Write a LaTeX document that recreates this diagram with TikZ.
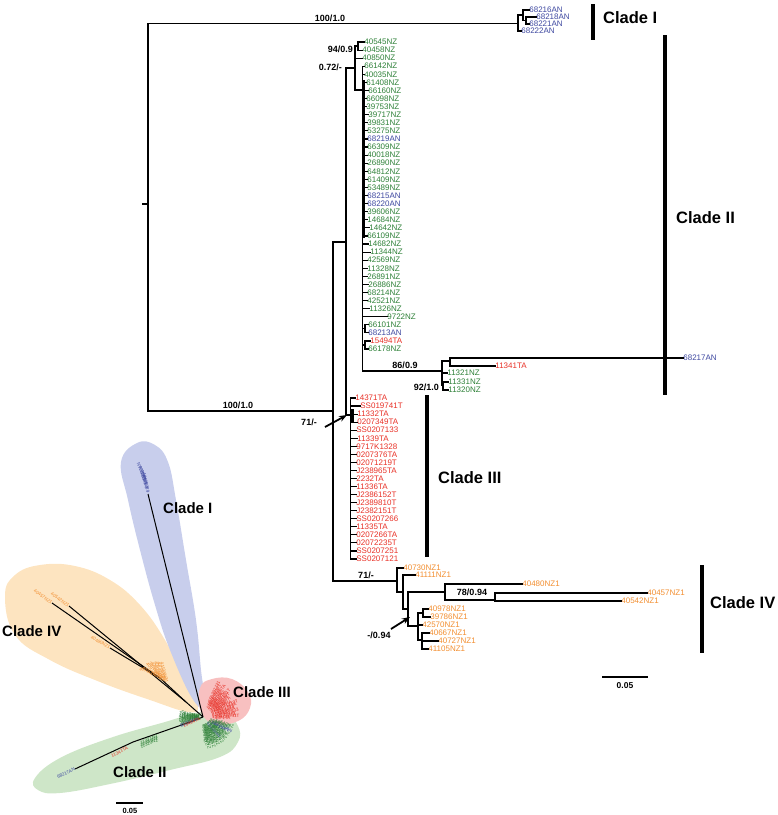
\documentclass[tikz,border=0pt]{standalone}
\usepackage{fontspec}
\setmainfont{Liberation Sans}
\usetikzlibrary{arrows.meta}
\definecolor{cgreen}{RGB}{45,128,55}
\definecolor{cblue}{RGB}{62,72,160}
\definecolor{cred}{RGB}{232,48,38}
\definecolor{corange}{RGB}{242,142,48}
\definecolor{fblue}{RGB}{200,206,236}
\definecolor{forange}{RGB}{253,228,192}
\definecolor{fred}{RGB}{248,192,192}
\definecolor{fgreen}{RGB}{206,230,200}
\tikzset{
  br/.style={line width=1.15pt, line cap=rect},
  tipl/.style={font=\fontsize{8}{8}\selectfont, anchor=west, inner sep=0pt, outer sep=0.4pt},
  supp/.style={font=\fontsize{9}{9}\selectfont\bfseries, inner sep=0pt},
  cladel/.style={font=\fontsize{16.5}{16.5}\selectfont\bfseries, anchor=west, inner sep=0pt},
  icladel/.style={font=\fontsize{15}{15}\selectfont\bfseries, anchor=west, inner sep=0pt},
  cbar/.style={line width=3.6pt},
  itip/.style={font=\fontsize{4.6}{4.6}\selectfont, inner sep=0pt},
  ibr/.style={line width=1pt},
  arr/.style={line width=1.8pt, -{Stealth[length=8pt,width=6pt]}},
}
\begin{document}
\begin{tikzpicture}[x=1pt,y=-1pt]
\useasboundingbox (0,0) rectangle (778,815);

% ================= INSET (unrooted tree) =================
\fill[forange] plot[smooth cycle, tension=0.7] coordinates {(5,596) (15,575) (40,565) (75,566) (110,580) (140,605) (165,640) (185,680) (198,706) (188,712) (150,700) (100,682) (50,660) (15,635)};
\fill[fblue] plot[smooth cycle, tension=0.7] coordinates {(137,443) (155,445) (168,462) (176,500) (186,560) (196,620) (201,670) (205,706) (192,698) (170,650) (155,605) (140,550) (128,500) (121,462)};
\fill[fgreen] plot[smooth cycle, tension=0.7] coordinates {(35,778) (60,758) (110,738) (165,722) (200,712) (225,714) (238,726) (238,742) (220,757) (170,770) (110,784) (60,793) (38,790)};
\fill[fred] plot[smooth cycle, tension=0.7] coordinates {(200,688) (212,679) (232,679) (248,692) (250,708) (238,721) (215,724) (201,712)};

\coordinate (O) at (203,717);
% clade I branch
\coordinate (bt) at (148,494);
\draw[ibr] (O) -- (bt);
\foreach \lab/\dx/\dy/\ang [count=\i] in {68216AN/0/0/101, 68218AN/-1/-4/104, 68221AN/-2/-8/107, 68222AN/-3/-12/110}
  \node[itip, text=cblue, anchor=west, rotate=\ang] (ib\i) at ({148+\dx},{493+\dy}) {\lab};
% clade IV branches
\coordinate (oc) at (186,702);
\coordinate (ob) at (160,678);
\coordinate (o1) at (52,603);
\coordinate (o2) at (69,606);
\coordinate (o3) at (110,648);
\draw[ibr] (O) -- (oc);
\draw[ibr] (oc) -- (ob);
\draw[ibr] (ob) -- (o1);
\draw[ibr] (oc) -- (o2);
\draw[ibr] (ob) -- (o3);
\node[itip, text=corange, anchor=east, rotate=-35] (io1) at (o1) {40457NZ1};
\node[itip, text=corange, anchor=east, rotate=-35] (io2) at (o2) {40542NZ1};
\node[itip, text=corange, anchor=east, rotate=-30] (io3) at (o3) {40480NZ1};
\foreach \lab/\ang/\dx/\dy [count=\i] in {40730NZ1/-20/0/0, 41111NZ1/-28/1/2, 40978NZ1/-45/2/3, 39786NZ1/-52/3/4, 42570NZ1/-58/4/5, 40667NZ1/-64/5/5, 40727NZ1/-70/6/6, 41105NZ1/-76/7/7}
  \node[itip, text=corange, anchor=east, rotate=\ang] (ioc\i) at ({160+\dx},{676+\dy}) {\lab};
% clade II branches
\coordinate (gc) at (190,722);
\coordinate (gb) at (133,742);
\coordinate (gt) at (75,769);
\draw[ibr] (O) -- (gc);
\draw[ibr] (gc) -- (gb);
\draw[ibr] (gb) -- (gt);
\node[itip, text=cblue, anchor=east, rotate=25] (ig1) at (gt) {68217AN};
\node[itip, text=cred, anchor=east, rotate=25] (ig2) at (128,748) {11341TA};
\foreach \lab/\dy [count=\i] in {11321NZ/-1, 11331NZ/1, 11320NZ/3}
  \node[itip, text=cgreen, anchor=east, rotate=22] (ig3\i) at (158,{737+\dy}) {\lab};
\foreach \lab/\col [count=\i from 0] in {40545NZ/cgreen,40458NZ/cgreen,40850NZ/cgreen,66142NZ/cgreen,40035NZ/cgreen,61408NZ/cgreen,66160NZ/cgreen,66098NZ/cgreen,39753NZ/cgreen,39717NZ/cgreen,39831NZ/cgreen,53275NZ/cgreen,68219AN/cblue,66309NZ/cgreen,40018NZ/cgreen,26890NZ/cgreen,64812NZ/cgreen,61409NZ/cgreen,53489NZ/cgreen,68215AN/cblue,68220AN/cblue,39606NZ/cgreen,14684NZ/cgreen,14642NZ/cgreen} {
  \pgfmathsetmacro{\ang}{-84+2.9*\i}
  \pgfmathsetmacro{\rad}{7+mod(\i,3)*3}
  \node[itip, text=\col, anchor=west, rotate=\ang] (igf\i) at ({203+\rad*cos(\ang)},{717-\rad*sin(\ang)}) {\lab};
}
\foreach \lab/\col [count=\i from 0] in {66109NZ/cgreen,14682NZ/cgreen,11344NZ/cgreen,42569NZ/cgreen,11328NZ/cgreen,26891NZ/cgreen,26886NZ/cgreen,68214NZ/cgreen,42521NZ/cgreen,11326NZ/cgreen,66101NZ/cgreen,68213AN/cblue,15494TA/cred} {
  \pgfmathsetmacro{\ang}{168+3*\i}
  \pgfmathsetmacro{\rad}{3+mod(\i,2)*2}
  \pgfmathsetmacro{\rot}{\ang-180}
  \node[itip, text=\col, anchor=east, rotate=\rot] (igl\i) at ({203+\rad*cos(\ang)},{717-\rad*sin(\ang)}) {\lab};
}
% clade III fan
\foreach \lab [count=\i from 0] in {14371TA,SS019741T,11332TA,0207349TA,SS0207133,11339TA,9717K1328,0207376TA,02071219T,J238965TA,2232TA,11336TA,J2386152T,J2389810T,J2382151T,SS0207266,11335TA,0207266TA,02072235T,SS0207251,SS0207121} {
  \pgfmathsetmacro{\ang}{-2+3.4*\i}
  \pgfmathsetmacro{\rad}{9+mod(\i,3)*3}
  \node[itip, text=cred, anchor=west, rotate=\ang] (irf\i) at ({203+\rad*cos(\ang)},{717-\rad*sin(\ang)}) {\lab};
}
\node[icladel] (iL1) at (163,508) {Clade I};
\node[icladel] (iL4) at (2,631) {Clade IV};
\node[icladel] (iL3) at (233,692) {Clade III};
\node[icladel] (iL2) at (113,772) {Clade II};
\coordinate (isb1) at (116,803);
\coordinate (isb2) at (143,803);
\draw[line width=1.2pt] (isb1) -- (isb2);
\node[font=\fontsize{7.5}{7.5}\selectfont\bfseries, inner sep=0pt] (isbl) at (130,811) {0.05};

% ================= MAIN TREE =================
\coordinate (root) at (148,204);
\coordinate (rootstub) at (143,204);
\coordinate (N1) at (518,23.5);
\coordinate (B) at (333,411);
\draw[br] (rootstub) -- (root);
\draw[br] (root |- N1) -- (root |- B);
\draw[br] (root |- N1) -- (N1);
\draw[br] (root |- B) -- (B);
\node[supp] (s1) at (330,18) {100/1.0};
\node[supp] (s2) at (238,405.5) {100/1.0};

% clade I
\coordinate (Ia) at (523,15);
\coordinate (Ib) at (526,20.5);
\node[tipl,text=cblue] (a1) at (529,10) {68216AN};
\node[tipl,text=cblue] (a2) at (536,17) {68218AN};
\node[tipl,text=cblue] (a3) at (529,24) {68221AN};
\node[tipl,text=cblue] (a4) at (521,31) {68222AN};
\draw[br] (N1 |- Ia) -- (N1 |- a4.west);
\draw[br] (N1 |- Ia) -- (Ia);
\draw[br] (Ia |- a1.west) -- (Ia |- Ib);
\draw[br] (Ia |- a1.west) -- (a1.west);
\draw[br] (Ia |- Ib) -- (Ib);
\draw[br] (Ib |- a2.west) -- (Ib |- a3.west);
\draw[br] (Ib |- a2.west) -- (a2.west);
\draw[br] (Ib |- a3.west) -- (a3.west);
\draw[br] (N1 |- a4.west) -- (a4.west);

% clade bars
\draw[cbar] (593,4) -- (593,40);
\node[cladel] (L1) at (603,18) {Clade I};
\draw[cbar] (665,35) -- (665,395);
\node[cladel] (L2) at (676,218) {Clade II};
\draw[cbar] (427,395) -- (427,557);
\node[cladel] (L3) at (438,478) {Clade III};
\draw[cbar] (702,565) -- (702,653);
\node[cladel] (L4) at (710,603) {Clade IV};

% B, C
\coordinate (C) at (346,242);
\coordinate (G) at (397,581);
\draw[br] (B |- C) -- (B |- G);
\draw[br] (B |- C) -- (C);
\draw[br] (B |- G) -- (G);
\node[supp] (s71b) at (366,575) {71/-};
\coordinate (D) at (355,68);
\coordinate (F) at (350.5,415);
\draw[br] (C |- D) -- (C |- F);
\draw[br] (C |- D) -- (D);
\draw[br] (C |- F) -- (F);
\node[supp, anchor=east] (s072) at (342,67) {0.72/-};
\coordinate (P) at (358,46);
\coordinate (E) at (362.5,90);
\draw[br] (D |- P) -- (D |- E);
\draw[br] (D |- P) -- (P);
\draw[br] (D |- E) -- (E);
\node[supp, anchor=east] (s94) at (353,49) {94/0.9};

% clade II tips
\foreach \lab/\lx/\col [count=\k from 0] in {40545NZ/364/cgreen, 40458NZ/362/cgreen, 40850NZ/362/cgreen, 66142NZ/364/cgreen, 40035NZ/364/cgreen, 61408NZ/366/cgreen, 66160NZ/368/cgreen, 66098NZ/366/cgreen, 39753NZ/366/cgreen, 39717NZ/368/cgreen, 39831NZ/367/cgreen, 53275NZ/367/cgreen, 68219AN/367/cblue, 66309NZ/367/cgreen, 40018NZ/367/cgreen, 26890NZ/367/cgreen, 64812NZ/367/cgreen, 61409NZ/367/cgreen, 53489NZ/367/cgreen, 68215AN/367/cblue, 68220AN/367/cblue, 39606NZ/367/cgreen, 14684NZ/367/cgreen, 14642NZ/369/cgreen, 66109NZ/367/cgreen, 14682NZ/368/cgreen, 11344NZ/370/cgreen, 42569NZ/367/cgreen, 11328NZ/367/cgreen, 26891NZ/367/cgreen, 26886NZ/368/cgreen, 68214NZ/367/cgreen, 42521NZ/367/cgreen, 11326NZ/369/cgreen, 9722NZ/387/cgreen, 66101NZ/368/cgreen, 68213AN/368/cblue, 15494TA/370/cred, 66178NZ/368/cgreen}
  \node[tipl,text=\col] (u\k) at (\lx,{42+8.08*\k}) {\lab};

\coordinate (Q) at (442,371);
\draw[br] (P |- u0.west) -- (P |- u1.west);
\draw[br] (P |- u0.west) -- (u0.west);
\draw[br] (P |- u1.west) -- (u1.west);
\draw[br] (D |- u2.west) -- (u2.west);
\draw[br] (E |- u3.west) -- (E |- Q);
\foreach \k in {3,...,34} \draw[br] (E |- u\k.west) -- (u\k.west);
\coordinate (pt1) at (363.5,80);
\coordinate (pt2) at (363.5,238);
\draw[line width=3pt] (pt1) -- (pt2);
\coordinate (pa) at (365,328.9);
\coordinate (pb) at (365,345);
\draw[br] (E |- pa) -- (pa);
\draw[line width=2pt] (pa |- u35.west) -- (pa |- u36.west);
\draw[br] (pa |- u35.west) -- (u35.west);
\draw[br] (pa |- u36.west) -- (u36.west);
\draw[br] (E |- pb) -- (pb);
\draw[line width=2pt] (pb |- u37.west) -- (pb |- u38.west);
\draw[br] (pb |- u37.west) -- (u37.west);
\draw[br] (pb |- u38.west) -- (u38.west);

% 86/0.9 subtree
\coordinate (R) at (450,361);
\coordinate (S) at (443,385.5);
\draw[br] (E |- Q) -- (Q);
\node[supp] (s86) at (405,365.5) {86/0.9};
\draw[br] (Q |- R) -- (Q |- S);
\draw[br] (Q |- R) -- (R);
\node[tipl,text=cblue] (v1) at (683,358) {68217AN};
\node[tipl,text=cred] (v2) at (495,366) {11341TA};
\draw[br] (R |- v1.west) -- (R |- v2.west);
\draw[br] (R |- v1.west) -- (v1.west);
\draw[br] (R |- v2.west) -- (v2.west);
\node[tipl,text=cgreen] (v3) at (447,373) {11321NZ};
\draw[br] (Q |- v3.west) -- (v3.west);
\draw[br] (Q |- S) -- (S);
\node[tipl,text=cgreen] (v4) at (448,382) {11331NZ};
\node[tipl,text=cgreen] (v5) at (448,390) {11320NZ};
\draw[br] (S |- v4.west) -- (S |- v5.west);
\draw[br] (S |- v4.west) -- (v4.west);
\draw[br] (S |- v5.west) -- (v5.west);
\node[supp, anchor=east] (s92) at (439,387) {92/1.0};

% clade III
\foreach \lab/\lx [count=\k from 0] in {14371TA/355, SS019741T/360, 11332TA/357, 0207349TA/357, SS0207133/356, 11339TA/357, 9717K1328/356, 0207376TA/356, 02071219T/356, J238965TA/356, 2232TA/356, 11336TA/356, J2386152T/356, J2389810T/356, J2382151T/356, SS0207266/356, 11335TA/356, 0207266TA/356, 02072235T/356, SS0207251/356, SS0207121/356}
  \node[tipl,text=cred] (w\k) at (\lx,{398+8.05*\k}) {\lab};
\draw[line width=1.6pt] (F |- w0.west) -- (F |- w20.west);
\foreach \k in {0,...,20} \draw[br] (F |- w\k.west) -- (w\k.west);
\coordinate (pt3) at (352.5,409);
\coordinate (pt4) at (352.5,422);
\draw[line width=2.6pt] (pt3) -- (pt4);
\coordinate (a3t) at (325,427);
\coordinate (a3h) at (347,415);
\draw[arr] (a3t) -- (a3h);
\node[supp] (s71a) at (309,422) {71/-};

% clade IV
\coordinate (H) at (403,592);
\coordinate (I) at (408,609);
\coordinate (J) at (445,592);
\coordinate (K) at (495,600);
\coordinate (Lq) at (418,626);
\coordinate (M1) at (423,613);
\coordinate (M2) at (422,640);
\node[tipl,text=corange] (x1) at (403,568) {40730NZ1};
\node[tipl,text=corange] (x2) at (415,575) {41111NZ1};
\node[tipl,text=corange] (x3) at (522,584) {40480NZ1};
\node[tipl,text=corange] (x4) at (647,593) {40457NZ1};
\node[tipl,text=corange] (x5) at (621,601) {40542NZ1};
\node[tipl,text=corange] (x6) at (428,609) {40978NZ1};
\node[tipl,text=corange] (x7) at (430,617) {39786NZ1};
\node[tipl,text=corange] (x8) at (422,625) {42570NZ1};
\node[tipl,text=corange] (x9) at (429,633) {40667NZ1};
\node[tipl,text=corange] (x10) at (438,641) {40727NZ1};
\node[tipl,text=corange] (x11) at (428,649) {41105NZ1};
\draw[br] (G |- x1.west) -- (G |- H);
\draw[br] (G |- x1.west) -- (x1.west);
\draw[br] (G |- H) -- (H);
\draw[br] (H |- x2.west) -- (H |- I);
\draw[br] (H |- x2.west) -- (x2.west);
\draw[br] (H |- I) -- (I);
\draw[br] (I |- J) -- (I |- Lq);
\draw[br] (I |- J) -- (J);
\draw[br] (I |- Lq) -- (Lq);
\draw[br] (J |- x3.west) -- (J |- K);
\draw[br] (J |- x3.west) -- (x3.west);
\draw[br] (J |- K) -- (K);
\node[supp] (s78) at (472,592.5) {78/0.94};
\draw[br] (K |- x4.west) -- (K |- x5.west);
\draw[br] (K |- x4.west) -- (x4.west);
\draw[br] (K |- x5.west) -- (x5.west);
\draw[br] (Lq |- M1) -- (Lq |- M2);
\draw[br] (Lq |- M1) -- (M1);
\draw[br] (Lq |- x8.west) -- (x8.west);
\draw[br] (Lq |- M2) -- (M2);
\draw[br] (M1 |- x6.west) -- (M1 |- x7.west);
\draw[br] (M1 |- x6.west) -- (x6.west);
\draw[br] (M1 |- x7.west) -- (x7.west);
\draw[br] (M2 |- x9.west) -- (M2 |- x11.west);
\draw[br] (M2 |- x9.west) -- (x9.west);
\draw[br] (M2 |- x10.west) -- (x10.west);
\draw[br] (M2 |- x11.west) -- (x11.west);
\coordinate (a4t) at (391,629);
\coordinate (a4h) at (410,617);
\draw[arr] (a4t) -- (a4h);
\node[supp] (s094) at (379,635) {-/0.94};

% scale bar
\coordinate (sb1) at (602,677);
\coordinate (sb2) at (648,677);
\draw[line width=1.2pt] (sb1) -- (sb2);
\node[font=\fontsize{8.5}{8.5}\selectfont\bfseries, inner sep=0pt] (sbl) at (625,686) {0.05};
\end{tikzpicture}
\end{document}
